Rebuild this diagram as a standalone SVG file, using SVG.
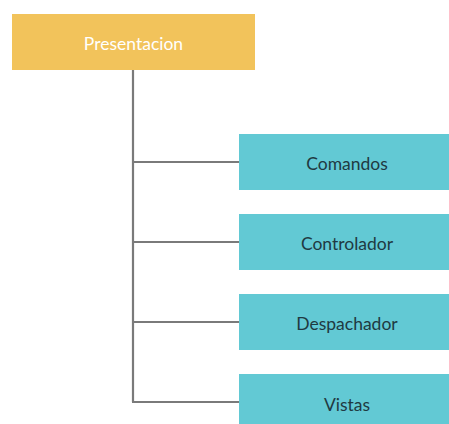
<svg xmlns="http://www.w3.org/2000/svg" width="449" height="424" viewBox="0 0 449 424">
<style>
.root{fill:#F2C35B}
.child{fill:#62C9D4}
.t{font-family:Lato,"Liberation Sans",sans-serif;font-size:17.5px;text-anchor:middle;dominant-baseline:central}
.tw{fill:#ffffff}
.td{fill:#1f3a42}
.conn{stroke:#7a7a7a;stroke-width:2.2;fill:none}
</style>
<rect width="449" height="424" fill="#ffffff"/>
<g id="connectors">
<path class="conn" d="M133 70 V402"/>
<path class="conn" d="M133 162 H240"/>
<path class="conn" d="M133 242 H240"/>
<path class="conn" d="M133 322 H240"/>
<path class="conn" d="M132 402 H240"/>
</g>
<g id="presentacion">
<rect class="root" x="12" y="14" width="243" height="56"/>
<text class="t tw" x="133.5" y="43">Presentacion</text>
</g>
<g id="comandos">
<rect class="child" x="239" y="134" width="216" height="56"/>
<text class="t td" x="347" y="163">Comandos</text>
</g>
<g id="controlador">
<rect class="child" x="239" y="214" width="216" height="56"/>
<text class="t td" x="347" y="243">Controlador</text>
</g>
<g id="despachador">
<rect class="child" x="239" y="294" width="216" height="56"/>
<text class="t td" x="347" y="323">Despachador</text>
</g>
<g id="vistas">
<rect class="child" x="239" y="374" width="216" height="56"/>
<text class="t td" x="347" y="404">Vistas</text>
</g>
</svg>
